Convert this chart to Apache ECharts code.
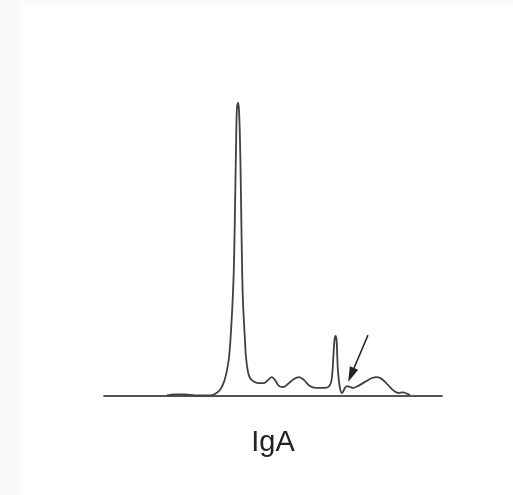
<!DOCTYPE html>
<html>
<head>
<meta charset="utf-8">
<script src="https://cdn.jsdelivr.net/npm/echarts@6/dist/echarts.min.js"></script>
<style>html,body{margin:0;padding:0;background:#fafafa;}#c{width:513px;height:495px;}</style>
</head>
<body>
<div id="c"></div>
<script>
// Migration position (arbitrary units) and signal intensity
var positions = [18.6,21.0,24.0,26.9,31.4,32.8,34.3,35.5,36.4,37.0,37.6,38.2,38.5,38.8,39.1,39.3,39.6,39.9,40.2,40.5,40.8,41.1,41.7,42.0,42.6,43.2,44.1,45.6,47.3,48.5,49.7,50.6,51.8,53.0,54.4,56.2,57.7,59.2,60.9,62.7,65.4,66.9,67.5,67.8,68.2,68.5,68.8,69.2,69.8,70.4,71.3,71.9,72.8,73.7,75.1,77.2,79.3,80.8,82.2,84.0,85.8,87.0,88.5,89.6,90.5];
var intensity = [0.17,0.5,0.5,0.17,0.17,0.67,2.0,4.7,8.7,13,22,35.3,46.3,65.3,85.3,95.3,97.7,96,87,68.7,46.3,32,18.7,13,8,6,5,4.3,4.3,5.3,6.3,5.3,3.3,3,4,5.7,6.3,5.3,3.3,2.7,2.7,3.7,7,12,18.7,20,18.7,8.7,2.7,1,2.7,3.3,3,2.7,3.3,4.7,6,6.3,5.7,3.7,1.7,1,1.2,0.8,0.3];
var arrowFrom = [78.1, 20.3];
var arrowTo = [73.1, 7];
var axisLabel = 'IgA';

var data = positions.map(function(x, i){ return [x, intensity[i]]; });

var chart = echarts.init(document.getElementById('c'), null, {renderer:'canvas'});
chart.setOption({
  backgroundColor: '#fafafa',
  animation: false,
  graphic: [{type:'rect', left:20, top:5, shape:{width:493, height:490}, style:{fill:'#ffffff'}, z:-10}],
  grid: {left:104, right:71, top:96, bottom:99},
  xAxis: {
    type:'value', min:0, max:100,
    axisLine:{show:true, lineStyle:{color:'#1a1a1a', width:1.6}},
    axisTick:{show:false}, axisLabel:{show:false}, splitLine:{show:false},
    name: axisLabel, nameLocation:'middle', nameGap:32,
    nameTextStyle:{fontFamily:'Liberation Sans, Arial, sans-serif', fontSize:29, color:'#222'}
  },
  yAxis: {type:'value', min:0, max:100, show:false},
  series: [{
    type:'line', data:data, smooth:0.35, showSymbol:false,
    lineStyle:{color:'#404040', width:1.8},
    markLine: {
      silent:true, symbol:['none','triangle'], symbolSize:[9,15],
      label:{show:false},
      lineStyle:{color:'#222', width:1.5, type:'solid'},
      data:[[{coord:arrowFrom},{coord:arrowTo}]]
    }
  }]
});
</script>
</body>
</html>
